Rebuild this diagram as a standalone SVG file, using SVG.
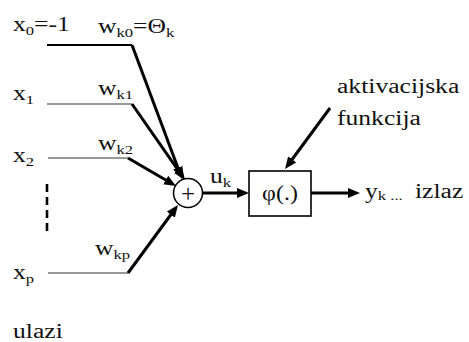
<svg xmlns="http://www.w3.org/2000/svg" width="469" height="342" viewBox="0 0 469 342">
<style>
text{font-family:"Liberation Serif","Times New Roman",serif;font-size:20px;fill:#111}
.sub{font-size:13px}
.in{stroke:#999;stroke-width:2.2;fill:none}
.arr{stroke:#000;stroke-width:3;fill:none;marker-end:url(#ah)}
</style>
<defs>
<marker id="ah" markerUnits="userSpaceOnUse" markerWidth="12" markerHeight="10" refX="7" refY="5" orient="auto">
<path d="M0,0 L12,5 L0,10 z" fill="#000"/>
</marker>
</defs>
<rect width="469" height="342" fill="#fff"/>
<g id="connectors">
<line x1="47" y1="45" x2="132" y2="45" stroke="#000" stroke-width="2"/>
<line class="in" x1="47" y1="104" x2="132" y2="104"/>
<line class="in" x1="48" y1="158" x2="128" y2="158"/>
<line class="in" x1="48" y1="273" x2="128" y2="273"/>
<line x1="47" y1="184" x2="47" y2="236" stroke="#000" stroke-width="2.6" stroke-dasharray="8,5"/>
<line class="arr" x1="132" y1="45" x2="180.3" y2="174.3"/>
<line class="arr" x1="132" y1="104" x2="182.1" y2="175.9"/>
<line class="arr" x1="128" y1="158" x2="171.7" y2="183.5"/>
<line class="arr" x1="128" y1="273" x2="175" y2="209"/>
<line class="arr" x1="202" y1="193" x2="244" y2="193"/>
<line class="arr" x1="311" y1="193" x2="355" y2="193"/>
<line class="arr" x1="330" y1="108" x2="288" y2="165"/>
</g>
<g id="sum">
<circle cx="188" cy="193" r="14.5" fill="#fff" stroke="#000" stroke-width="1.5"/>
<text x="188" y="201.5" text-anchor="middle" style="font-size:25px">+</text>
</g>
<g id="phi">
<rect x="249" y="171" width="62" height="45" fill="#fff" stroke="#000" stroke-width="1.6"/>
<text transform="translate(280,200) scale(1.2,1)" text-anchor="middle">φ(.)</text>
</g>
<g id="labels">
<text transform="translate(13,31) scale(1.28,1)">x<tspan class="sub" dy="4">0</tspan><tspan dy="-4">=-1</tspan></text>
<text transform="translate(98,33) scale(1.28,1)">w<tspan class="sub" dy="4">k0</tspan><tspan dy="-4">=Θ</tspan><tspan class="sub" dy="4">k</tspan></text>
<text transform="translate(13,100) scale(1.28,1)">x<tspan class="sub" dy="4">1</tspan></text>
<text transform="translate(98,95) scale(1.28,1)">w<tspan class="sub" dy="4">k1</tspan></text>
<text transform="translate(13,162) scale(1.28,1)">x<tspan class="sub" dy="4">2</tspan></text>
<text transform="translate(98,150) scale(1.28,1)">w<tspan class="sub" dy="4">k2</tspan></text>
<text transform="translate(95,255) scale(1.28,1)">w<tspan class="sub" dy="4">kp</tspan></text>
<text transform="translate(13,279) scale(1.28,1)">x<tspan class="sub" dy="4">p</tspan></text>
<text transform="translate(13,338) scale(1.28,1)">ulazi</text>
<text transform="translate(210,183) scale(1.28,1)">u<tspan class="sub" dy="4">k</tspan></text>
<text transform="translate(337,93) scale(1.28,1)">aktivacijska</text>
<text transform="translate(337,125) scale(1.28,1)">funkcija</text>
<text transform="translate(365,198) scale(1.28,1)">y<tspan class="sub" dy="2">k</tspan><tspan class="sub"> ...</tspan></text>
<text transform="translate(415,198) scale(1.28,1)">izlaz</text>
</g>
</svg>
